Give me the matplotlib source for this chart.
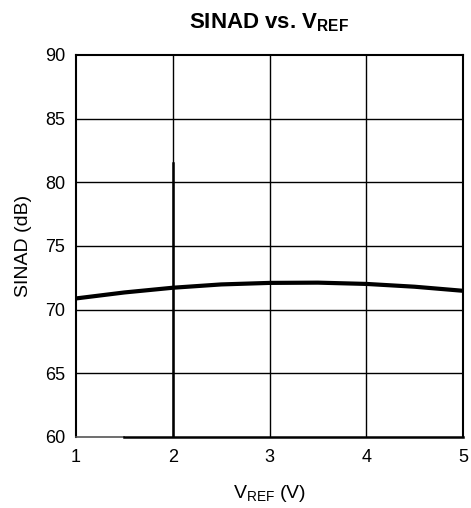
import matplotlib.pyplot as plt
import numpy as np

plt.rcParams['font.family'] = ['Liberation Sans', 'DejaVu Sans']
plt.rcParams['mathtext.fontset'] = 'custom'
plt.rcParams['mathtext.rm'] = 'Liberation Sans'
plt.rcParams['mathtext.bf'] = 'Liberation Sans:bold'

# SINAD curve
vref = [1.0, 1.5, 2.0, 2.5, 3.0, 3.5, 4.0, 4.5, 5.0]
sinad = [70.88, 71.35, 71.72, 71.98, 72.1, 72.12, 72.02, 71.8, 71.48]

x_ticks = [1, 2, 3, 4, 5]
y_ticks = [60, 65, 70, 75, 80, 85, 90]

fig = plt.figure(figsize=(4.71, 5.08), dpi=100)
ax = fig.add_axes([0.1614, 0.1398, 0.8217, 0.752])

ax.set_xlim(1, 5)
ax.set_ylim(60, 90)
ax.set_xticks(x_ticks)
ax.set_yticks(y_ticks)
ax.tick_params(axis='x', length=0, labelsize=13, pad=9)
ax.tick_params(axis='y', length=0, labelsize=13, pad=8)

# grid
for xv in x_ticks[1:-1]:
    ax.axvline(xv, color='black', lw=1.0, zorder=1)
for yv in y_ticks[1:-1]:
    ax.axhline(yv, color='black', lw=1.0, zorder=1)
# the thicker stub on the x=2 line in the original
ax.plot([2, 2], [60, 81.5], color='black', lw=1.8, zorder=1)

for s in ax.spines.values():
    s.set_linewidth(1.5)
ax.spines['bottom'].set_visible(False)
ax.plot([1, 1.5], [60, 60], color='#555555', lw=1.2, clip_on=False, zorder=3)
ax.plot([1.5, 5], [60, 60], color='black', lw=1.8, clip_on=False, zorder=3)

ax.plot(vref, sinad, color='black', lw=3.0, zorder=2, solid_capstyle='butt')

ax.set_title(r'SINAD vs. V$_{\mathbf{REF}}$', fontsize=16, fontweight='bold', pad=19)
ax.set_xlabel(r'V$_{\mathregular{REF}}$ (V)', fontsize=14, labelpad=12)
ax.set_ylabel('SINAD (dB)', fontsize=14, labelpad=9)

fig.savefig('out.png', dpi=100)
